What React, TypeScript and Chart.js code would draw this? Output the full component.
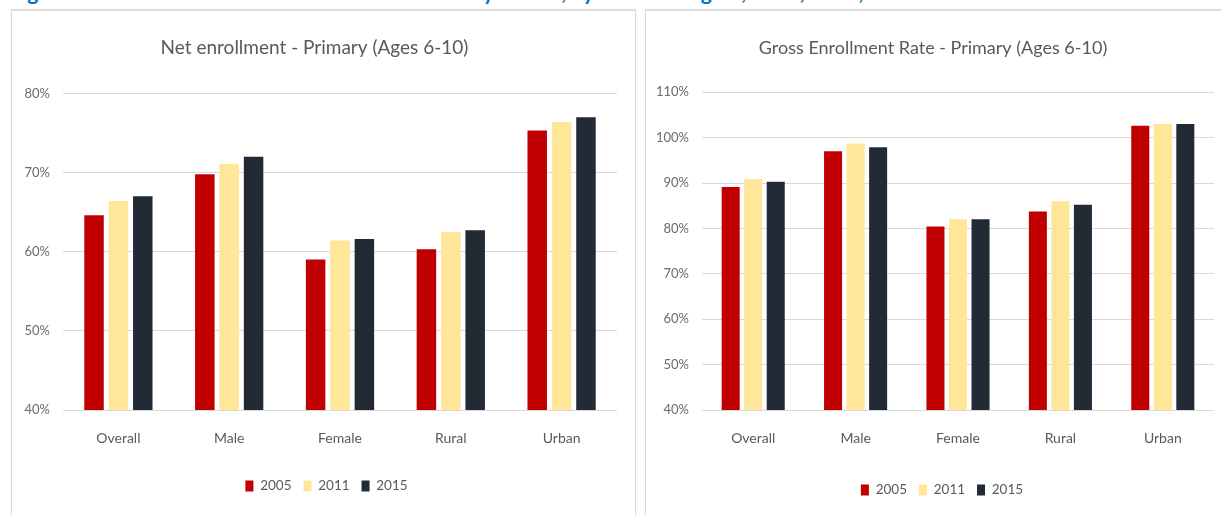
import React, { useEffect, useRef } from "react";
import { Chart, registerables } from "chart.js";

Chart.register(...registerables);

const categories = ["Overall", "Male", "Female", "Rural", "Urban"];
const years = ["2005", "2011", "2015"];

const net2005 = [64.6, 69.8, 59.0, 60.3, 75.3];
const net2011 = [66.4, 71.1, 61.4, 62.5, 76.4];
const net2015 = [67.0, 72.0, 61.6, 62.7, 77.0];

const gross2005 = [89.1, 97.0, 80.4, 83.7, 102.6];
const gross2011 = [90.9, 98.7, 82.0, 86.0, 103.0];
const gross2015 = [90.3, 97.9, 82.0, 85.2, 103.0];

const netAxis = { min: 40, max: 80, step: 10 };
const grossAxis = { min: 40, max: 110, step: 10 };

const seriesColors = ["#C00000", "#FFE699", "#222A35"];

const netTitle = "Net enrollment - Primary (Ages 6-10)";
const grossTitle = "Gross Enrollment Rate - Primary (Ages 6-10)";
const caption =
  "Figure 3: Net and Gross Enrollment Rates in Primary School, by Sex and Region, 2005, 2011, 2015";

const FONT = "Lato, 'Open Sans', sans-serif";
const TEXT = "#595959";

const shiftPlugin = {
  id: "shiftBoxes",
  afterLayout(chart: any, _args: any, opts: any) {
    const t = opts?.title || 0;
    const l = opts?.legend || 0;
    if (chart.titleBlock && t) {
      chart.titleBlock.left += 2 * t > 0 ? 2 * t : 0;
      chart.titleBlock.right += 2 * t < 0 ? 2 * t : 0;
    }
    if (chart.legend && l) {
      chart.legend.left += 2 * l > 0 ? 2 * l : 0;
      chart.legend.right += 2 * l < 0 ? 2 * l : 0;
    }
  },
};

type PanelProps = {
  width: number;
  height: number;
  title: string;
  titleSize: number;
  series: number[][];
  axis: { min: number; max: number; step: number };
  yWidth: number;
  padRight: number;
  titleShift: number;
  legendShift: number;
  xHeight: number;
  padBottom: number;
  titleBottom: number;
};

function BarPanel(p: PanelProps) {
  const ref = useRef<HTMLCanvasElement | null>(null);
  useEffect(() => {
    if (!ref.current) return;
    const chart = new Chart(ref.current, {
      type: "bar",
      data: {
        labels: categories,
        datasets: years.map((y, i) => ({
          label: y,
          data: p.series[i],
          backgroundColor: seriesColors[i],
          borderWidth: 0,
          categoryPercentage: 0.66,
          barPercentage: 0.8,
        })),
      },
      plugins: [shiftPlugin],
      options: {
        responsive: false,
        animation: false,
        layout: { padding: { left: 0, right: p.padRight, top: 0, bottom: p.padBottom } },
        plugins: {
          tooltip: { enabled: false },
          title: {
            display: true,
            text: p.title,
            color: TEXT,
            font: { family: FONT, size: p.titleSize, weight: "normal", lineHeight: 1.2 },
            padding: { top: 37 - (p.titleSize * 1.2) / 2, bottom: p.titleBottom },
          },
          legend: {
            display: true,
            position: "bottom",
            labels: {
              boxWidth: 8,
              boxHeight: 11,
              padding: 12,
              color: TEXT,
              font: { family: FONT, size: 13.5 },
            },
          },
          shiftBoxes: { title: p.titleShift, legend: p.legendShift },
        } as any,
        scales: {
          x: {
            grid: { display: false },
            border: { display: false },
            ticks: {
              color: TEXT,
              padding: 12,
              font: { family: FONT, size: 14 },
            },
            afterFit: (s: any) => {
              s.height = p.xHeight;
            },
          },
          y: {
            min: p.axis.min,
            max: p.axis.max,
            grid: { color: "#D9D9D9", lineWidth: 1, drawTicks: false },
            border: { display: false },
            ticks: {
              stepSize: p.axis.step,
              color: "#6b6b6b",
              padding: 13,
              font: { family: FONT, size: 13 },
              callback: (v: any) => v + "%",
            },
            afterFit: (s: any) => {
              s.width = p.yWidth;
            },
          },
        },
      },
    });
    return () => chart.destroy();
  }, []);
  return <canvas ref={ref} width={p.width} height={p.height} style={{ display: "block" }} />;
}

export default function App() {
  return (
    <div
      style={{
        position: "absolute",
        left: 0,
        top: 0,
        width: 1221,
        height: 515,
        overflow: "hidden",
        background: "#fff",
        fontFamily: FONT,
      }}
    >
      <div
        style={{
          position: "absolute",
          left: 10,
          top: -19,
          whiteSpace: "nowrap",
          fontSize: 21,
          lineHeight: "21px",
          fontWeight: 700,
          color: "#0070C0",
        }}
      >
        {caption}
      </div>
      <div
        style={{
          position: "absolute",
          left: 11,
          top: 10,
          width: 625,
          height: 530,
          boxSizing: "border-box",
          border: "1px solid #D9D9D9",
          boxShadow: "0 -1px 1px rgba(0,0,0,0.12)",
          background: "#fff",
        }}
      >
        <BarPanel
          width={623}
          height={504}
          title={netTitle}
          titleSize={19}
          series={[net2005, net2011, net2015]}
          axis={netAxis}
          yWidth={51}
          padRight={18}
          titleShift={0}
          legendShift={12}
          xHeight={57.25}
          padBottom={12.25}
          titleBottom={34}
        />
      </div>
      <div
        style={{
          position: "absolute",
          left: 645,
          top: 10,
          width: 600,
          height: 530,
          boxSizing: "border-box",
          border: "1px solid #D9D9D9",
          boxShadow: "0 -1px 1px rgba(0,0,0,0.12)",
          background: "#fff",
        }}
      >
        <BarPanel
          width={575}
          height={504}
          title={grossTitle}
          titleSize={18}
          series={[gross2005, gross2011, gross2015]}
          axis={grossAxis}
          yWidth={56}
          padRight={7}
          titleShift={3}
          legendShift={12}
          xHeight={61.25}
          padBottom={8.25}
          titleBottom={33.4}
        />
      </div>
    </div>
  );
}
